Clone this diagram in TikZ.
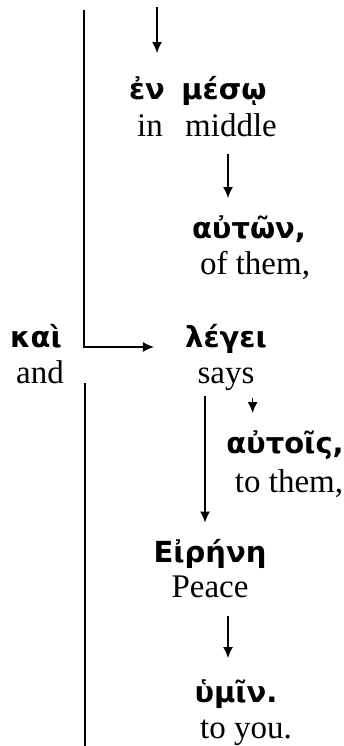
\documentclass[tikz,border=0pt]{standalone}
\usepackage{fontspec}
\setmainfont{Liberation Serif}
\newfontfamily\grkfont{DejaVu Sans}
\usetikzlibrary{arrows.meta}

\tikzset{
  greek/.style={anchor=base, inner sep=0pt, font=\grkfont\bfseries\fontsize{29}{34}\selectfont},
  gloss/.style={anchor=base, inner sep=0pt, font=\fontsize{33}{38}\selectfont},
  rule/.style={line width=1.3pt},
  link/.style={rule, -{Latex[length=11pt,width=10pt]}}
}

\begin{document}
\begin{tikzpicture}[x=1pt,y=-1pt]
    \useasboundingbox (0,0) rectangle (344,746);
    % Greek words with their glosses below
    \node[greek] (en) at (147,100) {ἐν};
    \node[gloss] (in) at (150,137) {in};
    \node[greek] (meso) at (224,100) {μέσῳ};
    \node[gloss] (middle) at (231,137) {middle};
    \node[greek] (auton) at (249,238) {αὐτῶν,};
    \node[gloss] (ofthem) at (255,274) {of them,};
    \node[greek] (kai) at (36,347) {καὶ};
    \node[gloss] (and) at (40,383) {and};
    \node[greek] (lege) at (226,347) {λέγει};
    \node[gloss] (says) at (226,383) {says};
    \node[greek] (autois) at (285,453) {αὐτοῖς,};
    \node[gloss] (tothem) at (289,492) {to them,};
    \node[greek] (eirene) at (210,562) {Εἰρήνη};
    \node[gloss] (peace) at (210,597) {Peace};
    \node[greek] (humin) at (236,702) {ὑμῖν.};
    \node[gloss] (toyou) at (246,738) {to you.};
    % loose ends
    \coordinate (intop) at (157,7);
    \coordinate (lefttop) at (84,10);
    \coordinate (leftbot) at (85,746);
    % connectors
    \draw[link, shorten >=24pt] (intop) -- (intop |- en.north);
    \draw[link, shorten <=16pt, shorten >=17pt] ([xshift=-3pt]middle.south) -- ([xshift=-3pt]middle.south |- auton.north);
    \draw[link, shorten >=31pt] (lefttop) |- (lege.base west);
    \draw[rule] (leftbot |- and.base) -- (leftbot);
    \draw[link, shorten <=6pt, shorten >=16pt] ([xshift=-21pt]says.south) -- ([xshift=-21pt]says.south |- eirene.north);
    \draw[link, shorten <=8pt, shorten >=17pt] ([xshift=-2pt]says.south east) -- ([xshift=-2pt]says.south east |- autois.north);
    \draw[link, shorten <=18pt, shorten >=21pt] ([xshift=18pt]peace.south) -- ([xshift=18pt]peace.south |- humin.north);
\end{tikzpicture}
\end{document}
